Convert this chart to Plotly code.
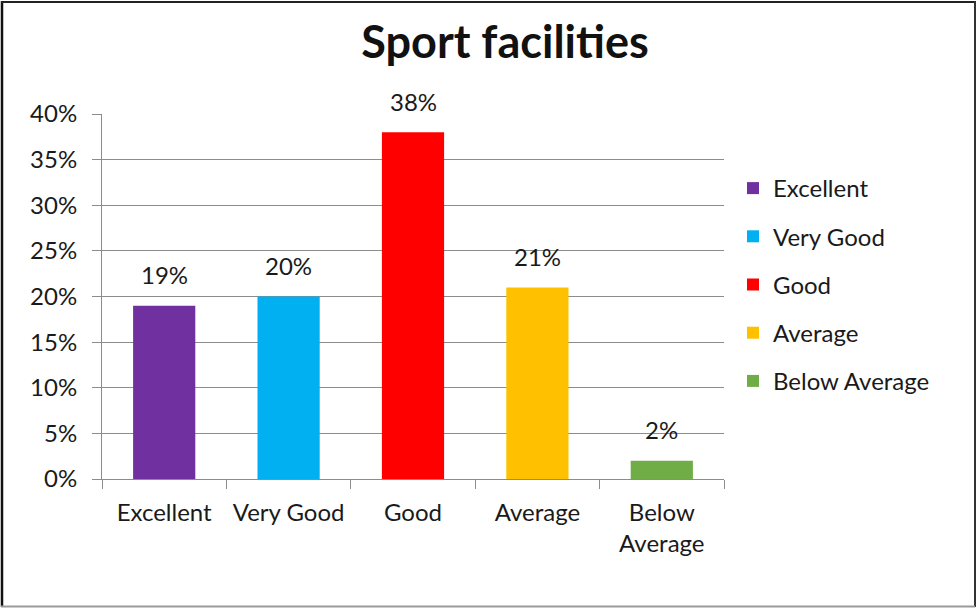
import plotly.graph_objects as go

categories = ["Excellent", "Very Good", "Good", "Average", "Below Average"]
tick_labels = ["Excellent", "Very Good", "Good", "Average", "Below<br>Average"]
values = [0.19, 0.20, 0.38, 0.21, 0.02]
label_text = ["19%", "20%", "38%", "21%", "2%"]
colors = ["#7030A0", "#00B0F0", "#FF0000", "#FFC000", "#70AD47"]

FONT = "Lato, 'Open Sans', sans-serif"
TXT = "#1a1a1a"
GRID = "#8c8c8c"

W, H = 976, 608
# plot area in page pixels (from reference)
PL, PR, PT, PB = 102, 724, 114, 479
L, T = PL, PT
R, B = W - PR, H - PB
pw, ph = W - L - R, H - T - B


def px(x):
    return (x - L) / pw


def py(y):
    return (H - B - y) / ph


fig = go.Figure()
for i, cat in enumerate(categories):
    fig.add_trace(go.Bar(
        x=[tick_labels[i]], y=[values[i]], name=cat,
        marker=dict(color=colors[i], line=dict(width=0)),
        width=0.5,
        legendgroup=cat,
    ))

annotations = [
    dict(x=tick_labels[i], y=values[i], xref="x", yref="y", text=label_text[i],
         showarrow=False, yanchor="middle", yshift=31,
         font=dict(size=24, family=FONT, color=TXT))
    for i in range(len(categories))
]

border = [
    dict(type="line", xref="paper", yref="paper", x0=px(2), x1=px(2), y0=py(607), y1=py(1),
         line=dict(color="#111111", width=2.5)),
    dict(type="line", xref="paper", yref="paper", x0=px(1), x1=px(975), y0=py(2), y1=py(2),
         line=dict(color="#222222", width=2)),
    dict(type="line", xref="paper", yref="paper", x0=px(975), x1=px(975), y0=py(607), y1=py(1),
         line=dict(color="#333333", width=2)),
    dict(type="line", xref="paper", yref="paper", x0=px(1), x1=px(975), y0=py(606.5), y1=py(606.5),
         line=dict(color="#9a9a9a", width=2)),
]

fig.update_layout(
    width=W, height=H,
    margin=dict(l=L, r=R, t=T, b=B),
    paper_bgcolor="white", plot_bgcolor="white",
    barmode="overlay",
    font=dict(family=FONT, size=24, color=TXT),
    title=dict(text="<b>Sport facilities</b>", x=505 / W, xanchor="center",
               y=1 - 42 / H, yanchor="middle", xref="container", yref="container",
               font=dict(size=45, family=FONT, color="#111111")),
    showlegend=True,
    legend=dict(x=px(733), y=py(166), xanchor="left", yanchor="top",
                font=dict(size=24, family=FONT, color=TXT),
                traceorder="grouped", tracegroupgap=14,
                itemwidth=30, bgcolor="rgba(0,0,0,0)"),
    xaxis=dict(type="category", categoryorder="array", categoryarray=tick_labels,
               showline=True, linecolor=GRID, linewidth=1,
               ticks="outside", tickson="boundaries", ticklen=9, tickcolor=GRID,
               ticklabelstandoff=12,
               tickfont=dict(size=24, family=FONT, color=TXT),
               showgrid=False),
    yaxis=dict(range=[0, 0.4], dtick=0.05, tickformat=".0%",
               showline=True, linecolor=GRID, linewidth=1,
               ticks="outside", ticklen=9, tickcolor=GRID,
               ticklabelstandoff=10,
               showgrid=True, gridcolor=GRID, gridwidth=1,
               zeroline=False,
               tickfont=dict(size=24, family=FONT, color=TXT)),
    annotations=annotations,
    shapes=border,
)

fig.write_html("out.html", config={"displayModeBar": False},
               post_script="document.body.style.margin='0px';")
